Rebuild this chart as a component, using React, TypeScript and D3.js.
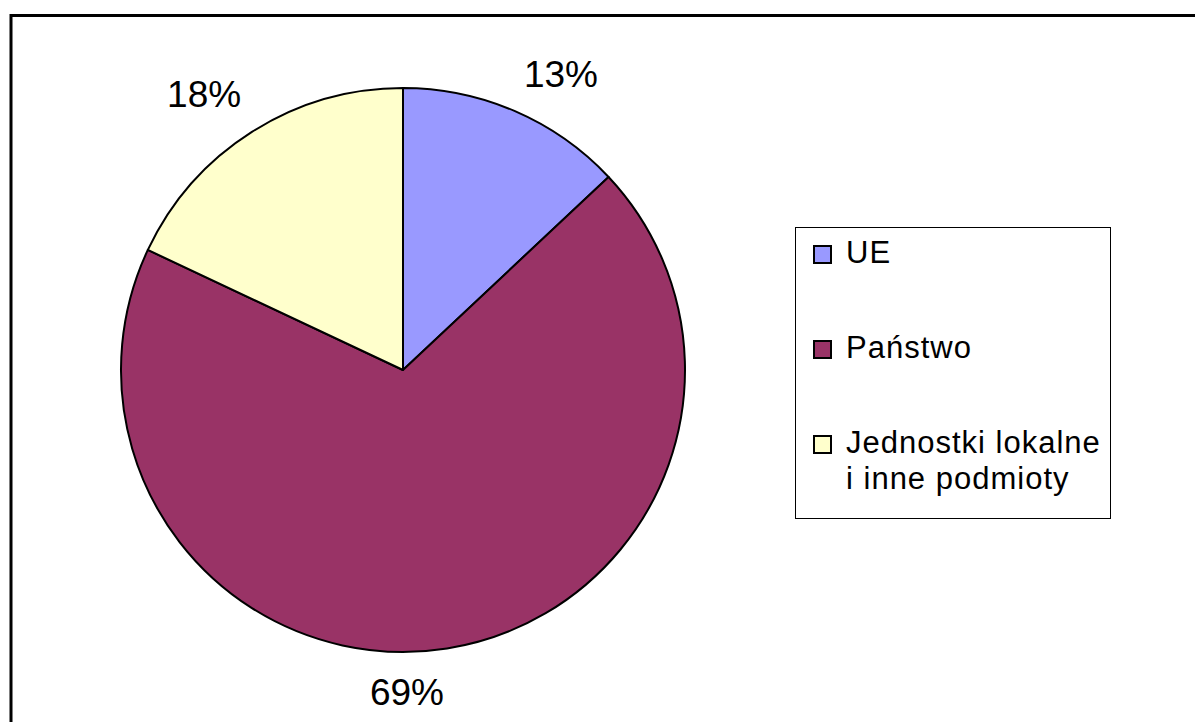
import React, { useEffect, useRef } from 'react';
import * as d3 from 'd3';

const categories = ['UE', 'Państwo', 'Jednostki lokalne i inne podmioty'];
const values = [13, 69, 18];
const legendLines = [['UE'], ['Państwo'], ['Jednostki lokalne', 'i inne podmioty']];
const colors = ['#9999FF', '#993366', '#FFFFCC'];

// label placement nudges (angle shift in degrees, extra radius) – mimic Excel's outside labels
const labelNudge: [number, number][] = [[4.65, 2], [8.3, -12], [-3.4, 6]];

const W = 1195;
const H = 722;

export default function App() {
  const ref = useRef<SVGSVGElement>(null);

  useEffect(() => {
    const svg = d3.select(ref.current);
    svg.selectAll('*').remove();

    // outer chart border (right and bottom are cut off in the picture)
    svg.append('rect')
      .attr('x', 11).attr('y', 15.5)
      .attr('width', W + 100).attr('height', H + 100)
      .attr('fill', '#fff')
      .attr('stroke', '#000')
      .attr('stroke-width', 3);

    const cx = 403, cy = 370, r = 282;
    const g = svg.append('g').attr('transform', `translate(${cx},${cy})`);

    const pie = d3.pie<number>().sort(null).value(d => d);
    const arcs = pie(values);
    const arc = d3.arc<d3.PieArcDatum<number>>().innerRadius(0).outerRadius(r);

    g.selectAll('path.slice')
      .data(arcs)
      .enter()
      .append('path')
      .attr('class', 'slice')
      .attr('d', arc)
      .attr('fill', (d, i) => colors[i])
      .attr('stroke', '#000')
      .attr('stroke-width', 2)
      .attr('stroke-linejoin', 'round');

    const total = d3.sum(values);
    const fs = 37;
    const labelAngle = (d: d3.PieArcDatum<number>, i: number) =>
      (d.startAngle + d.endAngle) / 2 + labelNudge[i][0] * Math.PI / 180;
    const labelR = (i: number) => r + 52 + labelNudge[i][1];

    g.selectAll('text.lbl')
      .data(arcs)
      .enter()
      .append('text')
      .attr('class', 'lbl')
      .attr('x', (d, i) => Math.sin(labelAngle(d, i)) * labelR(i))
      .attr('y', (d, i) => -Math.cos(labelAngle(d, i)) * labelR(i) + fs * 0.358)
      .attr('text-anchor', 'middle')
      .attr('font-family', '"Liberation Sans", Arial, sans-serif')
      .attr('font-size', fs)
      .text(d => Math.round(d.data / total * 100) + '%');

    // legend
    const lg = svg.append('g');
    lg.append('rect')
      .attr('x', 795.5).attr('y', 227.5)
      .attr('width', 315).attr('height', 291)
      .attr('fill', '#fff')
      .attr('stroke', '#000')
      .attr('stroke-width', 1);

    const rowY = d3.scalePoint<string>()
      .domain(categories)
      .range([263, 453]);

    const item = lg.selectAll('g.item')
      .data(categories)
      .enter()
      .append('g')
      .attr('class', 'item')
      .attr('transform', d => `translate(0,${rowY(d)})`);

    item.append('rect')
      .attr('x', 814).attr('y', -17)
      .attr('width', 17).attr('height', 17)
      .attr('fill', (d, i) => colors[i])
      .attr('stroke', '#000')
      .attr('stroke-width', 2);

    item.each(function (d, i) {
      const t = d3.select(this).append('text')
        .attr('font-family', '"Liberation Sans", Arial, sans-serif')
        .attr('font-size', 31)
        .attr('letter-spacing', 1);
      legendLines[i].forEach((line, j) => {
        t.append('tspan')
          .attr('x', 846)
          .attr('y', j * 36)
          .text(line);
      });
    });
  }, []);

  return (
    <svg ref={ref} width={W} height={H}
      style={{ position: 'absolute', left: 0, top: 0, background: '#fff' }} />
  );
}
